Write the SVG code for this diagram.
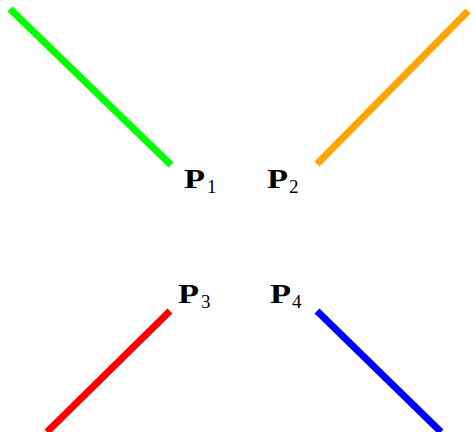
<svg xmlns="http://www.w3.org/2000/svg" width="473" height="432" viewBox="0 0 473 432">
<style>
.ln{stroke-width:7;fill:none;stroke-linecap:butt}
.p{font-family:"Liberation Serif",serif;font-weight:bold;font-size:28px;fill:#000}
.s{font-family:"Liberation Serif",serif;font-size:19px;fill:#000}
</style>
<rect width="473" height="432" fill="#fff"/>
<g id="connectors">
<line class="ln" x1="10" y1="9" x2="171" y2="165" stroke="#00ff00"/>
<line class="ln" x1="317" y1="164" x2="468" y2="11" stroke="#ffa500"/>
<line class="ln" x1="170" y1="311" x2="47" y2="432" stroke="#ff0000"/>
<line class="ln" x1="317" y1="311" x2="441" y2="432" stroke="#0000ff"/>
</g>
<g id="P1"><text class="p" x="184" y="188" textLength="21" lengthAdjust="spacingAndGlyphs">P</text><text class="s" x="207" y="193">1</text></g>
<g id="P2"><text class="p" x="267" y="188" textLength="21" lengthAdjust="spacingAndGlyphs">P</text><text class="s" x="289" y="193">2</text></g>
<g id="P3"><text class="p" x="178" y="303" textLength="21" lengthAdjust="spacingAndGlyphs">P</text><text class="s" x="201" y="308">3</text></g>
<g id="P4"><text class="p" x="270" y="303" textLength="21" lengthAdjust="spacingAndGlyphs">P</text><text class="s" x="292" y="308">4</text></g>
</svg>
